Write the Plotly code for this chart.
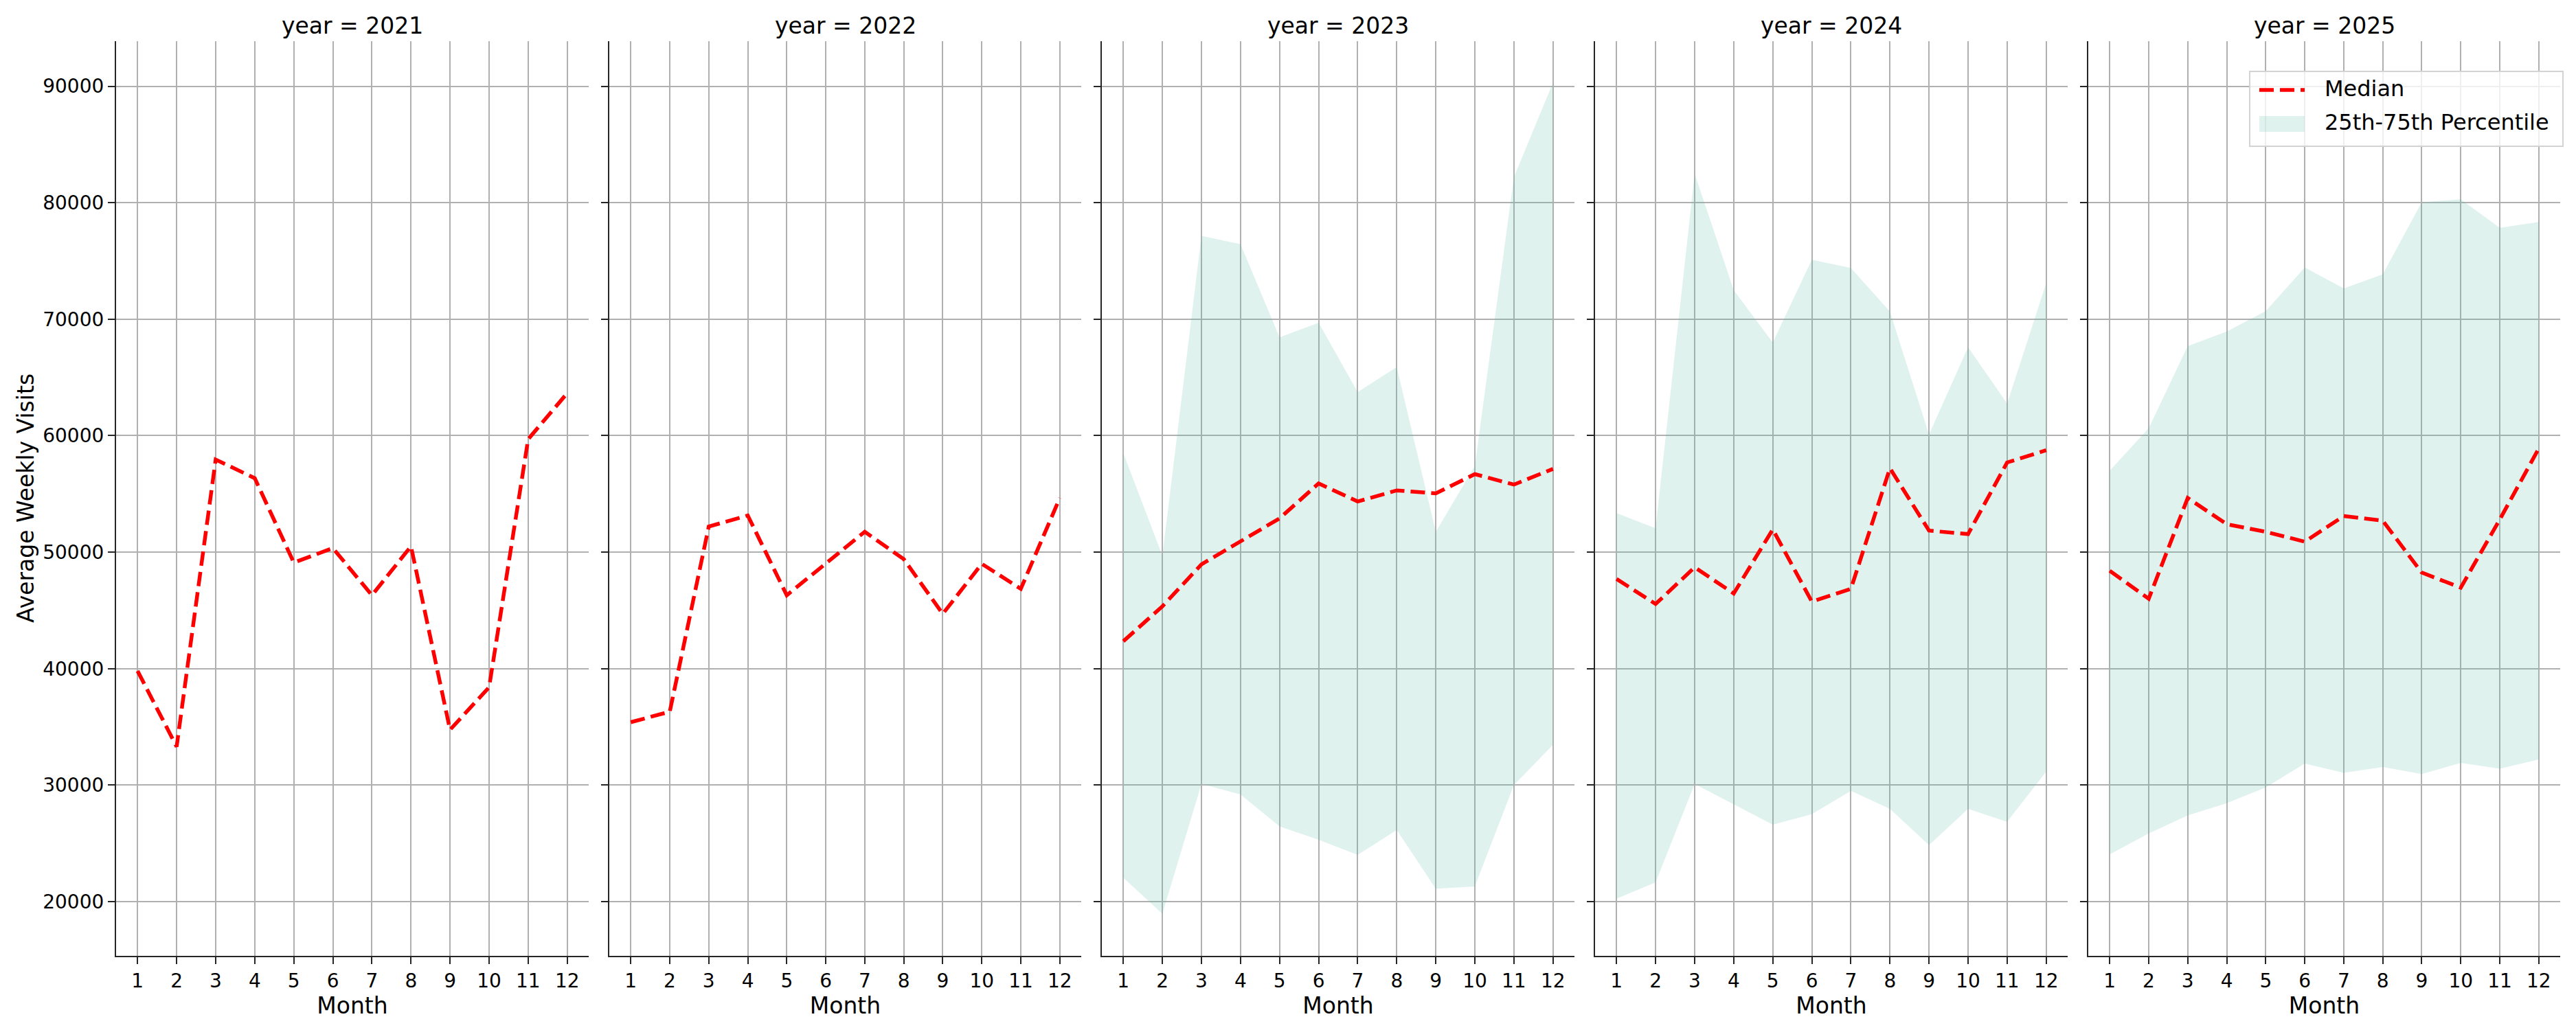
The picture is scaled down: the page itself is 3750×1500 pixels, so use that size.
import plotly.graph_objects as go

# --- data ---
YEARS = [2021, 2022, 2023, 2024, 2025]
MONTHS = list(range(1, 13))

median_2021 = [39800, 33300, 57950, 56350, 49100, 50350, 46300, 50500, 34750, 38400, 59700, 63650]
median_2022 = [35400, 36300, 52200, 53150, 46300, 49000, 51750, 49400, 44700, 49000, 46850, 54650]
median_2023 = [42350, 45350, 48950, 50950, 52900, 55900, 54350, 55300, 55050, 56700, 55800, 57150]
median_2024 = [47700, 45550, 48700, 46450, 51950, 45750, 46850, 57200, 51850, 51550, 57700, 58750]
median_2025 = [48400, 46000, 54650, 52400, 51750, 50900, 53100, 52700, 48250, 46950, 52800, 58900]

# 25th / 75th percentile band (not available for 2021 and 2022)
p25_2023 = [22050, 18950, 30100, 29200, 26450, 25300, 24000, 26150, 21100, 21300, 30000, 33450]
p75_2023 = [58500, 49700, 77150, 76450, 68450, 69700, 63750, 65900, 51750, 57400, 82200, 90300]
p25_2024 = [20250, 21650, 30100, 28350, 26600, 27500, 29500, 27950, 24850, 27950, 26850, 31150]
p75_2024 = [53350, 52050, 82500, 72500, 68000, 75100, 74400, 70650, 60100, 67600, 62750, 73100]
p25_2025 = [24050, 25850, 27400, 28450, 29800, 31850, 31050, 31550, 30950, 31900, 31400, 32200]
p75_2025 = [57000, 60650, 67700, 68950, 70700, 74450, 72650, 73850, 80050, 80300, 77850, 78350]

medians = [median_2021, median_2022, median_2023, median_2024, median_2025]
p25s = [None, None, p25_2023, p25_2024, p25_2025]
p75s = [None, None, p75_2023, p75_2024, p75_2025]

Y_TICKS = [20000, 30000, 40000, 50000, 60000, 70000, 80000, 90000]
LEGEND_LABELS = ["Median", "25th-75th Percentile"]

# --- styling ---
# the page body has an 8px margin, so the figure is a bit smaller than the window
PAGE_OFF = 8
W, H = 3750 - 2 * PAGE_OFF, 1500 - 2 * PAGE_OFF
FONT = "DejaVu Sans"
SPINE = "#262626"
GRID = "#b0b0b0"
RED = "#ff0000"
BAND = "rgba(102,190,168,0.2)"
DASH = "21px,9px"

# panel positions in page pixels (left, right), shared vertical extent
PANELS = [(169, 857), (887, 1574), (1604, 2292), (2322, 3010), (3040, 3727)]
TOP, BOTTOM = 60, 1392


def px(x):
    return (x - PAGE_OFF) / W


def py(y):
    return 1 - (y - PAGE_OFF) / H


fig = go.Figure()

for i, year in enumerate(YEARS):
    ax = "" if i == 0 else str(i + 1)
    xref, yref = "x" + ax, "y" + ax

    if p25s[i] is not None:
        fig.add_trace(go.Scatter(
            x=MONTHS, y=p25s[i], xaxis=xref, yaxis=yref, mode="lines",
            line=dict(width=0), hoverinfo="skip", showlegend=False,
        ))
        fig.add_trace(go.Scatter(
            x=MONTHS, y=p75s[i], xaxis=xref, yaxis=yref, mode="lines",
            line=dict(width=0), fill="tonexty", fillcolor=BAND,
            name="25th-75th Percentile", showlegend=False,
        ))

    fig.add_trace(go.Scatter(
        x=MONTHS, y=medians[i], xaxis=xref, yaxis=yref, mode="lines",
        line=dict(color=RED, width=5.5, dash=DASH),
        name="Median", showlegend=False,
    ))

    left, right = PANELS[i]
    common = dict(
        showline=True, linecolor=SPINE, linewidth=2.2,
        ticks="outside", ticklen=10, tickwidth=2.2, tickcolor=SPINE,
        showgrid=True, gridcolor=GRID, gridwidth=2.2, zeroline=False,
        tickfont=dict(family=FONT, size=28, color="black"),
    )
    fig.layout["xaxis" + ax] = dict(
        common, domain=[px(left), px(right)], anchor=yref,
        range=[0.45, 12.55], tickvals=MONTHS,
        title=dict(text="Month", font=dict(family=FONT, size=33, color="black"), standoff=4),
    )
    fig.layout["yaxis" + ax] = dict(
        common, domain=[py(BOTTOM), py(TOP)], anchor=xref,
        range=[15340, 93870], tickvals=Y_TICKS, tickformat="d",
        showticklabels=(i == 0),
    )

    fig.add_annotation(
        text=f"year = {year}", xref="paper", yref="paper",
        x=px((left + right) / 2), y=py(37), xanchor="center", yanchor="middle",
        showarrow=False, font=dict(family=FONT, size=33, color="black"),
    )

fig.add_annotation(
    text="Average Weekly Visits", xref="paper", yref="paper",
    x=px(38), y=py((TOP + BOTTOM) / 2), xanchor="center", yanchor="middle",
    textangle=-90, showarrow=False, font=dict(family=FONT, size=33, color="black"),
)

# legend drawn in the last panel, matplotlib style (wide fill swatch, framed box)
fig.add_shape(
    type="rect", xref="paper", yref="paper", layer="above",
    x0=px(3275), x1=px(3731), y0=py(213), y1=py(104),
    fillcolor="rgba(255,255,255,0.8)", line=dict(color="#d3d3d3", width=2),
)
fig.add_shape(
    type="line", xref="paper", yref="paper", layer="above",
    x0=px(3289), x1=px(3355), y0=py(131), y1=py(131),
    line=dict(color=RED, width=5.5, dash=DASH),
)
fig.add_shape(
    type="rect", xref="paper", yref="paper", layer="above",
    x0=px(3289), x1=px(3355), y0=py(192), y1=py(169),
    fillcolor=BAND, line=dict(width=0),
)
for label, yc in zip(LEGEND_LABELS, [129, 178]):
    fig.add_annotation(
        text=label, xref="paper", yref="paper", x=px(3382), y=py(yc),
        xanchor="left", yanchor="middle", showarrow=False,
        font=dict(family=FONT, size=32, color="black"),
    )

fig.update_layout(
    width=W, height=H,
    margin=dict(l=0, r=0, t=0, b=0),
    paper_bgcolor="white", plot_bgcolor="white",
    font=dict(family=FONT, color="black"),
    showlegend=False,
)

fig.write_html("out.html")
